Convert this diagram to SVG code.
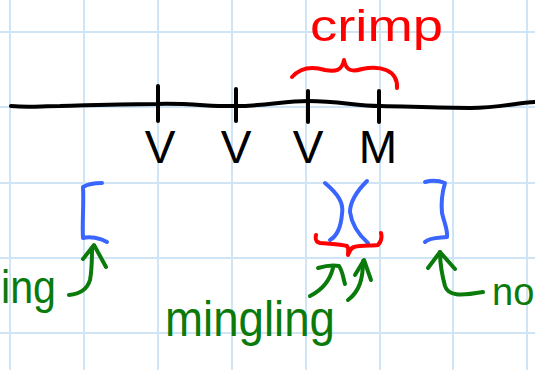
<svg xmlns="http://www.w3.org/2000/svg" width="535" height="370" viewBox="0 0 535 370">
<defs>
<style>
.grid{stroke:#cfe5f5;stroke-width:2;fill:none}
.ink{fill:none;stroke-linecap:round;stroke-linejoin:round;stroke-width:4}
.blk{stroke:#000}
.blue{stroke:#3a66ff}
.red{stroke:#ff0000}
.green{stroke:#0a7a0a}
.lbl{font-family:"Liberation Sans",Arial,sans-serif}
.vtxt{font-size:46px;fill:#000;text-anchor:middle}
.gtxt{fill:#0a7a0a}
.rtxt{fill:#ff0000}
</style>
</defs>
<rect width="535" height="370" fill="#ffffff"/>
<g id="grid" class="grid">
<path d="M10,0V370M84,0V370M158,0V370M232,0V370M306,0V370M380,0V370M453,0V370M527,0V370"/>
<path d="M0,32H535M0,107H535M0,183H535M0,258H535M0,333H535"/>
</g>
<g id="axis" class="ink blk">
<path d="M11,106 C30,108 40,106 60,106 C100,105 130,104 157,104 C190,103 215,107 236,106 C265,106 285,101 308,101 C340,101 355,106 380,106 C420,107 445,108 470,108 C500,108 515,103 535,102"/>
<path d="M158,86V121M236,89V121M308,91V122M379,91V122"/>
</g>
<g id="labels-v">
<text class="lbl vtxt" x="160" y="163">V</text>
<text class="lbl vtxt" x="236" y="163">V</text>
<text class="lbl vtxt" x="308" y="163">V</text>
<text class="lbl vtxt" x="378" y="163">M</text>
</g>
<g id="crimp">
<path class="ink red" d="M292,77 C300,68 312,66 325,70 C335,72 342,71 344,60 C346,71 352,72 362,69 C380,65 398,70 397,88"/>
<text class="lbl rtxt" x="310" y="41" font-size="44" textLength="133" lengthAdjust="spacingAndGlyphs">crimp</text>
</g>
<g id="bracket-left">
<path class="ink blue" d="M102,183 C95,183 88,184 83,187 C84,205 82,222 83,238 C90,236 100,238 107,242"/>
</g>
<g id="bracket-middle">
<path class="ink blue" d="M325,183 C338,194 344,203 342,214 C341,226 337,236 330,240"/>
<path class="ink blue" d="M367,181 C356,192 350,202 350,212 C352,226 360,236 368,243"/>
<path class="ink red" d="M316,235 C315,240 316,242 320,243 C330,244 340,244 347,246 C349,248 348,252 348,255 C350,250 351,248 354,247 C362,245 372,246 378,245 C381,242 382,237 381,233"/>
</g>
<g id="bracket-right">
<path class="ink blue" d="M425,182 C432,180 440,181 445,183 C442,193 441,203 442,213 C444,222 448,230 447,237 C440,238 430,237 425,242"/>
</g>
<g id="connectors" class="ink green">
<path d="M69,295 C80,294 87,290 90,280 C92,270 92,260 92,248"/>
<path d="M83,259 L94,245 L106,267"/>
<path d="M310,296 C322,290 330,280 333,268"/>
<path d="M318,268 C325,266 333,265 339,266 C343,272 343,278 345,284"/>
<path d="M348,300 C360,291 363,278 363,261"/>
<path d="M355,275 L364,260 L371,280"/>
<path d="M440,252 C440,265 442,275 445,286 C448,296 460,296 483,292"/>
<path d="M428,268 L440,252 L455,269"/>
</g>
<g id="text-green">
<text class="lbl gtxt" x="1" y="303" font-size="46" textLength="55" lengthAdjust="spacingAndGlyphs">ing</text>
<text class="lbl gtxt" x="165" y="336" font-size="50" textLength="170" lengthAdjust="spacingAndGlyphs">mingling</text>
<text class="lbl gtxt" x="492" y="305" font-size="38">no</text>
</g>
</svg>
